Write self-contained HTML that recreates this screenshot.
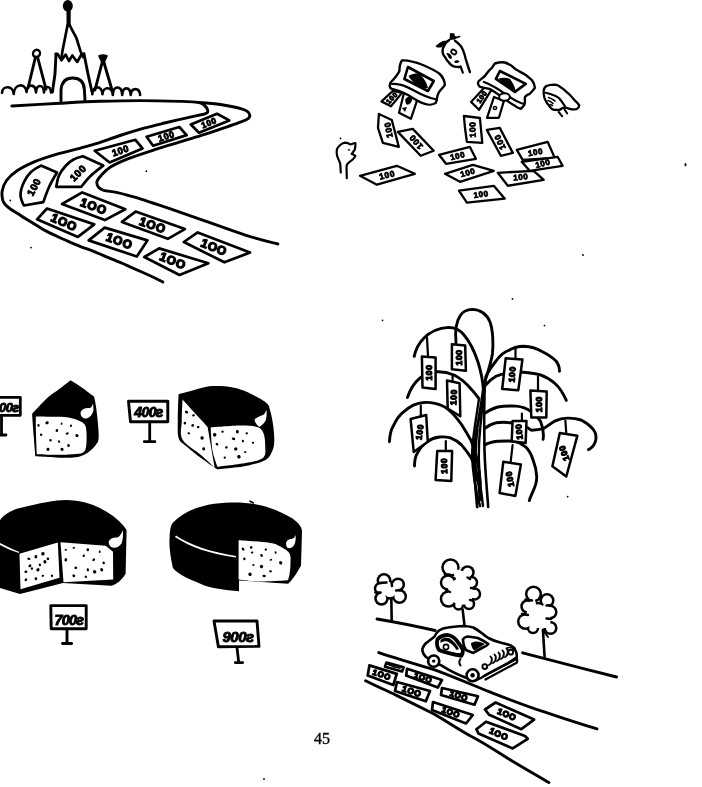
<!DOCTYPE html>
<html><head><meta charset="utf-8"><style>
html,body{margin:0;padding:0;background:#fff;}
svg{display:block;filter:grayscale(100%);}
text{font-family:"Liberation Sans",sans-serif;fill:#000;stroke:#000;stroke-width:0.9px;}
</style></head><body>
<svg width="702" height="787" viewBox="0 0 702 787">
<ellipse cx="67.8" cy="5.9" rx="5" ry="5.8" fill="#000"/>
<path d="M68.6,11 L68.6,25" fill="none" stroke="#000" stroke-width="4.2" stroke-linecap="round" stroke-linejoin="round" />
<path d="M67.6,25 L62.4,51.2 L61.5,58" fill="none" stroke="#000" stroke-width="2.7" stroke-linecap="round" stroke-linejoin="round" />
<path d="M69.6,25 C72,30 75,35 76.4,38 C78,43 79.5,48 80.5,51.2 L83,57" fill="none" stroke="#000" stroke-width="2.7" stroke-linecap="round" stroke-linejoin="round" />
<path d="M55.7,54 L57.4,53.7 L61.5,60.3 L65.7,54.5 L69,61.2 L72.3,55.4 L77.2,62 L81.4,54.5 L84,53.7" fill="none" stroke="#000" stroke-width="2.6" stroke-linecap="round" stroke-linejoin="round" />
<path d="M56,54 L55,74 L52.4,92" fill="none" stroke="#000" stroke-width="2.9" stroke-linecap="round" stroke-linejoin="round" />
<path d="M84,54 L88,74 L92,92" fill="none" stroke="#000" stroke-width="2.9" stroke-linecap="round" stroke-linejoin="round" />
<path d="M61,101 L61,90 Q62,78 72.6,78 Q84,78 84.4,90 L85,100.4" fill="none" stroke="#000" stroke-width="2.9" stroke-linecap="round" stroke-linejoin="round" />
<ellipse cx="36.5" cy="53.5" rx="3.4" ry="3.8" transform="rotate(25 36.5 53.5)" fill="none" stroke="#000" stroke-width="2.4"/>
<path d="M35.5,57 L28,88" fill="none" stroke="#000" stroke-width="2.9" stroke-linecap="round" stroke-linejoin="round" />
<path d="M37.5,57 L46,89" fill="none" stroke="#000" stroke-width="2.9" stroke-linecap="round" stroke-linejoin="round" />
<path d="M99,56 Q103,54 107,56 L104.5,61.5 Q103,62.5 101.5,61.5 Z" fill="#000" stroke="#000" stroke-width="1.5"/>
<path d="M102.5,61 L95,90" fill="none" stroke="#000" stroke-width="2.9" stroke-linecap="round" stroke-linejoin="round" />
<path d="M103.5,61 L112,90" fill="none" stroke="#000" stroke-width="2.9" stroke-linecap="round" stroke-linejoin="round" />
<path d="M2,92.8 C2.5,85.2 13.2,85.2 13.7,94.0 C14.2,82.9 26.0,82.9 26.5,92.0 C27.0,83.4 35.5,83.4 36.0,92.5 C36.5,83.8 43.5,83.8 44.0,92.5 C44.5,85.2 50.5,85.2 51.0,92.5" fill="none" stroke="#000" stroke-width="2.6" stroke-linecap="round" stroke-linejoin="round" />
<path d="M92.3,94.2 C92.8,85.1 102.0,85.1 102.5,94.2 C103.0,86.1 112.3,86.1 112.8,95.0 C113.3,84.9 121.7,84.9 122.2,95.0 C122.7,86.1 130.2,86.1 130.7,95.0 C131.2,87.1 139.6,87.1 140.1,95.0" fill="none" stroke="#000" stroke-width="2.6" stroke-linecap="round" stroke-linejoin="round" />
<path d="M11.8,106.0 C19.8,105.5 45.3,104.0 60.0,103.2 C74.7,102.4 86.7,101.7 100.0,101.3 C113.3,100.9 126.5,100.6 140.0,100.6 C153.5,100.6 171.3,101.1 181.0,101.4 C190.7,101.7 194.2,101.8 198.0,102.4 C201.8,103.0 202.4,103.7 204.0,105.0 C205.6,106.3 207.3,108.6 207.6,110.0 C207.8,111.4 208.6,112.4 205.5,113.6 C202.4,114.8 195.9,115.7 189.1,117.3 C182.3,118.9 172.1,121.2 164.6,123.0 C157.1,124.8 151.4,126.1 144.0,128.2 C136.6,130.3 127.8,133.0 120.0,135.5 C112.2,138.0 103.7,141.3 97.0,143.4 C90.3,145.5 86.5,146.5 79.8,148.3 C73.1,150.1 64.6,151.9 57.0,154.2 C49.4,156.5 40.9,159.1 34.2,161.9 C27.6,164.7 21.7,167.7 17.1,170.8 C12.5,173.9 9.0,177.1 6.5,180.5 C4.0,183.9 2.8,187.7 2.2,191.0 C1.6,194.3 2.2,198.0 2.8,200.3 C3.4,202.6 4.4,203.5 5.7,205.0 C7.0,206.5 8.7,207.8 10.7,209.2 C12.7,210.6 15.4,212.1 17.8,213.6 C20.2,215.1 22.5,216.8 24.9,218.3 C27.3,219.8 29.6,221.2 32.0,222.6 C34.4,224.0 36.8,225.6 39.2,227.0 C41.6,228.4 43.7,229.7 46.3,231.1 C48.9,232.5 52.0,234.0 55.0,235.4 C58.0,236.8 59.8,237.7 64.0,239.5 C68.2,241.3 75.0,244.3 80.0,246.3 C85.0,248.3 89.5,249.7 94.2,251.6 C99.0,253.5 103.8,255.7 108.5,257.7 C113.2,259.7 119.1,262.0 122.7,263.5 C126.3,265.0 125.5,264.8 130.0,266.8 C134.5,268.8 144.1,273.0 149.6,275.5 C155.1,278.0 160.6,280.9 162.8,282.0" fill="none" stroke="#000" stroke-width="2.9" stroke-linecap="round" stroke-linejoin="round" />
<path d="M198.0,102.4 C202.0,102.8 214.6,103.7 221.9,104.8 C229.2,105.9 237.2,107.6 241.6,108.9 C246.0,110.2 247.3,110.9 248.5,112.5 C249.7,114.1 250.3,116.6 248.6,118.3 C246.9,120.0 242.8,121.2 238.3,122.9 C233.9,124.6 227.4,126.7 221.9,128.6 C216.4,130.5 211.0,132.3 205.5,134.1 C200.0,135.9 194.5,137.5 189.1,139.2 C183.7,140.9 178.2,142.4 172.8,144.1 C167.4,145.8 163.8,146.7 156.4,149.1 C149.0,151.5 136.1,155.6 128.4,158.6 C120.8,161.6 115.0,164.2 110.5,167.0 C106.0,169.8 103.7,172.8 101.4,175.2 C99.2,177.6 97.5,179.4 97.0,181.4 C96.5,183.4 97.3,185.6 98.4,187.1 C99.5,188.6 100.4,189.4 103.7,190.3 C107.0,191.2 113.2,191.6 118.5,192.8 C123.8,194.0 129.9,195.7 135.6,197.4 C141.3,199.1 147.0,201.1 152.7,203.0 C158.4,204.9 161.2,205.8 169.8,208.7 C178.4,211.6 191.2,216.1 204.0,220.6 C216.8,225.1 234.5,231.7 246.8,235.6 C259.1,239.5 272.6,242.6 277.8,244.0" fill="none" stroke="#000" stroke-width="2.9" stroke-linecap="round" stroke-linejoin="round" />
<path d="M190.8,124.5 L217.0,113.8 L229.3,120.4 L199.0,132.7 Z" fill="#fff" stroke="#000" stroke-width="2.7" stroke-linecap="round" stroke-linejoin="round" />
<text x="209.0" y="122.8" transform="rotate(-22.0 209.0 122.8)" font-size="8.5" text-anchor="middle" dominant-baseline="central" font-weight="bold" letter-spacing="0.6">100</text>
<path d="M146.6,136.8 L179.3,127.0 L186.7,135.1 L153.1,145.8 Z" fill="#fff" stroke="#000" stroke-width="2.7" stroke-linecap="round" stroke-linejoin="round" />
<text x="166.4" y="136.2" transform="rotate(-18.0 166.4 136.2)" font-size="9.0" text-anchor="middle" dominant-baseline="central" font-weight="bold" letter-spacing="0.6">100</text>
<path d="M94.7,150.8 L135.4,139.8 L142.5,148.4 L109.6,162.5 Z" fill="#fff" stroke="#000" stroke-width="2.7" stroke-linecap="round" stroke-linejoin="round" />
<text x="120.5" y="150.4" transform="rotate(-18.0 120.5 150.4)" font-size="9.5" text-anchor="middle" dominant-baseline="central" font-weight="bold" letter-spacing="0.6">100</text>
<path d="M82.9,156.2 C82.9,156.2 103.3,165.6 103.3,165.6 C103.3,165.6 94.7,172.0 91.0,175.5 C87.3,179.0 81.3,186.8 81.3,186.8 C81.3,186.8 56.3,186.8 56.3,186.8 C56.3,186.8 57.5,179.0 59.0,175.5 C60.5,172.0 63.1,168.7 65.5,166.0 C67.9,163.3 70.6,161.1 73.5,159.5 C76.4,157.9 82.9,156.2 82.9,156.2 Z" fill="#fff" stroke="#000" stroke-width="2.7" stroke-linecap="round" stroke-linejoin="round" />
<text x="78.0" y="173.0" transform="rotate(-45.0 78.0 173.0)" font-size="10.0" text-anchor="middle" dominant-baseline="central" font-weight="bold" letter-spacing="0.6">100</text>
<path d="M41.0,165.6 C41.0,165.6 57.0,172.5 57.0,172.5 C57.0,172.5 51.8,181.1 49.5,186.0 C47.2,190.9 43.3,202.1 43.3,202.1 C43.3,202.1 23.9,205.5 23.9,205.5 C23.9,205.5 20.5,198.9 20.5,195.0 C20.5,191.1 22.2,185.8 24.0,182.0 C25.8,178.2 28.2,174.7 31.0,172.0 C33.8,169.3 41.0,165.6 41.0,165.6 Z" fill="#fff" stroke="#000" stroke-width="2.7" stroke-linecap="round" stroke-linejoin="round" />
<text x="34.0" y="187.0" transform="rotate(-62.0 34.0 187.0)" font-size="10.0" text-anchor="middle" dominant-baseline="central" font-weight="bold" letter-spacing="0.6">100</text>
<path d="M62.0,204.0 L82.3,192.4 L125.3,209.3 L104.8,220.1 Z" fill="#fff" stroke="#000" stroke-width="2.7" stroke-linecap="round" stroke-linejoin="round" />
<text x="93.6" y="206.4" transform="rotate(20.0 93.6 206.4)" font-size="12.0" text-anchor="middle" dominant-baseline="central" font-weight="bold" letter-spacing="0.6" style="stroke-width:1.3px">1OO</text>
<path d="M37.0,219.3 L47.0,208.5 L94.3,224.4 L77.9,236.9 Z" fill="#fff" stroke="#000" stroke-width="2.7" stroke-linecap="round" stroke-linejoin="round" />
<text x="64.1" y="222.3" transform="rotate(24.0 64.1 222.3)" font-size="12.0" text-anchor="middle" dominant-baseline="central" font-weight="bold" letter-spacing="0.6" style="stroke-width:1.3px">1OO</text>
<path d="M88.7,240.4 L104.7,227.6 L147.4,240.4 L136.8,256.5 Z" fill="#fff" stroke="#000" stroke-width="2.7" stroke-linecap="round" stroke-linejoin="round" />
<text x="119.4" y="241.2" transform="rotate(20.0 119.4 241.2)" font-size="12.0" text-anchor="middle" dominant-baseline="central" font-weight="bold" letter-spacing="0.6" style="stroke-width:1.3px">1OO</text>
<path d="M121.9,221.9 L135.6,211.6 L184.9,229.1 L167.8,238.8 Z" fill="#fff" stroke="#000" stroke-width="2.7" stroke-linecap="round" stroke-linejoin="round" />
<text x="152.6" y="225.3" transform="rotate(20.0 152.6 225.3)" font-size="12.0" text-anchor="middle" dominant-baseline="central" font-weight="bold" letter-spacing="0.6" style="stroke-width:1.3px">1OO</text>
<path d="M183.8,242.0 L197.7,232.4 L250.0,252.6 L224.4,262.3 Z" fill="#fff" stroke="#000" stroke-width="2.7" stroke-linecap="round" stroke-linejoin="round" />
<text x="214.0" y="247.3" transform="rotate(22.0 214.0 247.3)" font-size="12.0" text-anchor="middle" dominant-baseline="central" font-weight="bold" letter-spacing="0.6" style="stroke-width:1.3px">1OO</text>
<path d="M144.3,257.0 L159.2,248.4 L208.4,263.3 L179.5,275.0 Z" fill="#fff" stroke="#000" stroke-width="2.7" stroke-linecap="round" stroke-linejoin="round" />
<text x="172.8" y="260.9" transform="rotate(22.0 172.8 260.9)" font-size="12.0" text-anchor="middle" dominant-baseline="central" font-weight="bold" letter-spacing="0.6" style="stroke-width:1.3px">1OO</text>
<path d="M381.5,101.4 L393.0,90.9 L402.0,92.9 L391.0,106.3 Z" fill="#fff" stroke="#000" stroke-width="2.2" stroke-linecap="round" stroke-linejoin="round" />
<text x="391.9" y="97.9" transform="rotate(-45.0 391.9 97.9)" font-size="7.0" text-anchor="middle" dominant-baseline="central" font-weight="bold" letter-spacing="0.6">100</text>
<path d="M399,112.8 L405,88.9 L417.9,97.9 L410.9,118.8 Z" fill="#fff" stroke="#000" stroke-width="2.2" stroke-linecap="round" stroke-linejoin="round" />
<path d="M405,100 C407,96 411,96 412,99 C412,103 408,106 406,104 Z" fill="#000"/>
<path d="M402,108 L407,107 L405,112 Z" fill="#000"/>
<path d="M401.9,60.5 C407,60 415,62 422.9,65 C430,68 436,71 439.8,74 C443,77 445,82 444.8,85 C443,88 440,90 438.5,93 C437,96 437,100 435.8,102.9 C433,105 428,105 424.9,103.9 C419,102 414,99 408,95 C402,92 397,90 392,89 C389,88 389,84 391,82 C394,79 397,76 399.4,71 C399.5,66 400,63 401.9,60.5 Z" fill="#fff" stroke="#000" stroke-width="2.4" stroke-linecap="round" stroke-linejoin="round" />
<path d="M392,84 C398,83 406,86 413,90 C420,94 428,98 437,99.5" fill="none" stroke="#000" stroke-width="2.2" stroke-linecap="round" stroke-linejoin="round" />
<path d="M407.9,67 L433.8,81 L427.9,91 L404.4,79 Z" fill="#fff" stroke="#000" stroke-width="2.6" stroke-linecap="round" stroke-linejoin="round" />
<path d="M408.5,76 C412,74 416,73 419,73.5 C423,77 426,81 428,88 C424,89 420,87 417,85 C413,82 410,79 408.5,76 Z" fill="#000"/>
<path d="M471.0,101.9 L485.0,86.9 L492.0,88.9 L479.0,109.8 Z" fill="#fff" stroke="#000" stroke-width="2.2" stroke-linecap="round" stroke-linejoin="round" />
<text x="481.8" y="96.9" transform="rotate(-55.0 481.8 96.9)" font-size="7.0" text-anchor="middle" dominant-baseline="central" font-weight="bold" letter-spacing="0.6">100</text>
<path d="M487,117.8 L494,96.9 L503.9,100.9 L498.9,117.8 Z" fill="#fff" stroke="#000" stroke-width="2.2" stroke-linecap="round" stroke-linejoin="round" />
<circle cx="495" cy="108" r="1.6" fill="none" stroke="#000" stroke-width="1.5"/>
<path d="M494.9,63.5 C498,62.5 502,62 504.9,62.5 C508,63.5 510,65 511.9,66 C514,68 515,69 516.9,70 C520,72 523,73 525.8,75 C528,77 530,78 531.8,80 C534,83 535,86 534.8,87.9 C533,91 531,92 529.8,93.9 C527,95 525,96 524.8,97.9 C525,100 525,103 524.3,104.9 C523,107 522,108 520.8,108.8 C518,108 516,107 514.9,105.8 C508,102 500,95 490,89 C486,88 482,88 479.5,86.5 C477,84 478,81 480,80 C482,78 484,77 485,75.9 C487,73 489,70 491.9,68 C493,66 494,64.5 494.9,63.5 Z" fill="#fff" stroke="#000" stroke-width="2.4" stroke-linecap="round" stroke-linejoin="round" />
<path d="M484,82 C492,85 500,90 508,96 C514,100 519,103 524,104" fill="none" stroke="#000" stroke-width="2.2" stroke-linecap="round" stroke-linejoin="round" />
<path d="M499.9,71 L525.8,83.9 L514.9,91.9 L495.9,78.9 Z" fill="#fff" stroke="#000" stroke-width="2.6" stroke-linecap="round" stroke-linejoin="round" />
<path d="M498.5,78.5 C502,77.5 507,77.5 510,79 C513,83 515,87 515.5,90.5 C511,89 507,86 503,83 C501,81.5 499.5,80 498.5,78.5 Z" fill="#000"/>
<ellipse cx="504.5" cy="97" rx="5.3" ry="3.8" fill="#fff" stroke="#000" stroke-width="2"/>
<path d="M378.9,114.0 L391.8,120.0 L398.8,146.9 L382.9,142.9 L378.0,128.0 Z" fill="#fff" stroke="#000" stroke-width="2.3" stroke-linecap="round" stroke-linejoin="round" />
<text x="388.5" y="130.0" transform="rotate(-100.0 388.5 130.0)" font-size="8.5" text-anchor="middle" dominant-baseline="central" font-weight="bold" letter-spacing="0.6" style="stroke-width:0.8px">100</text>
<path d="M397.8,131.9 L412.8,128.9 L433.7,150.8 L420.7,155.8 Z" fill="#fff" stroke="#000" stroke-width="2.3" stroke-linecap="round" stroke-linejoin="round" />
<text x="416.0" y="142.0" transform="rotate(-130.0 416.0 142.0)" font-size="8.5" text-anchor="middle" dominant-baseline="central" font-weight="bold" letter-spacing="0.6" style="stroke-width:0.8px">100</text>
<path d="M360.0,175.8 L396.8,165.8 L414.8,173.8 L376.9,184.7 Z" fill="#fff" stroke="#000" stroke-width="2.3" stroke-linecap="round" stroke-linejoin="round" />
<text x="387.1" y="175.0" transform="rotate(-14.0 387.1 175.0)" font-size="8.5" text-anchor="middle" dominant-baseline="central" font-weight="bold" letter-spacing="0.6" style="stroke-width:0.8px">100</text>
<path d="M463.9,116.0 L479.9,118.0 L482.3,142.9 L466.9,141.9 L465.0,128.0 Z" fill="#fff" stroke="#000" stroke-width="2.3" stroke-linecap="round" stroke-linejoin="round" />
<text x="472.5" y="129.5" transform="rotate(-92.0 472.5 129.5)" font-size="8.5" text-anchor="middle" dominant-baseline="central" font-weight="bold" letter-spacing="0.6" style="stroke-width:0.8px">100</text>
<path d="M486.8,129.9 L499.8,127.9 L512.8,152.9 L500.8,155.8 Z" fill="#fff" stroke="#000" stroke-width="2.3" stroke-linecap="round" stroke-linejoin="round" />
<text x="500.0" y="142.0" transform="rotate(-115.0 500.0 142.0)" font-size="8.5" text-anchor="middle" dominant-baseline="central" font-weight="bold" letter-spacing="0.6" style="stroke-width:0.8px">100</text>
<path d="M439.0,154.8 L469.9,146.9 L475.9,158.8 L446.0,163.8 Z" fill="#fff" stroke="#000" stroke-width="2.3" stroke-linecap="round" stroke-linejoin="round" />
<text x="457.7" y="156.1" transform="rotate(-14.0 457.7 156.1)" font-size="8.0" text-anchor="middle" dominant-baseline="central" font-weight="bold" letter-spacing="0.6" style="stroke-width:0.8px">100</text>
<path d="M445.0,173.8 L472.9,164.8 L493.8,170.8 L460.0,181.8 Z" fill="#fff" stroke="#000" stroke-width="2.3" stroke-linecap="round" stroke-linejoin="round" />
<text x="467.9" y="172.8" transform="rotate(-16.0 467.9 172.8)" font-size="8.0" text-anchor="middle" dominant-baseline="central" font-weight="bold" letter-spacing="0.6" style="stroke-width:0.8px">100</text>
<path d="M458.9,190.7 L493.8,185.8 L504.8,198.7 L466.9,202.7 Z" fill="#fff" stroke="#000" stroke-width="2.3" stroke-linecap="round" stroke-linejoin="round" />
<text x="481.1" y="194.5" transform="rotate(-8.0 481.1 194.5)" font-size="8.0" text-anchor="middle" dominant-baseline="central" font-weight="bold" letter-spacing="0.6" style="stroke-width:0.8px">100</text>
<path d="M497.8,172.8 L533.7,170.8 L543.7,179.8 L507.8,185.8 Z" fill="#fff" stroke="#000" stroke-width="2.3" stroke-linecap="round" stroke-linejoin="round" />
<text x="520.8" y="177.3" transform="rotate(-5.0 520.8 177.3)" font-size="8.0" text-anchor="middle" dominant-baseline="central" font-weight="bold" letter-spacing="0.6" style="stroke-width:0.8px">100</text>
<path d="M516.8,149.9 L547.7,141.9 L554.7,157.8 L522.7,159.8 Z" fill="#fff" stroke="#000" stroke-width="2.3" stroke-linecap="round" stroke-linejoin="round" />
<text x="535.5" y="152.4" transform="rotate(-10.0 535.5 152.4)" font-size="8.0" text-anchor="middle" dominant-baseline="central" font-weight="bold" letter-spacing="0.6" style="stroke-width:0.8px">100</text>
<path d="M521.7,161.8 L557.6,156.8 L562.6,165.8 L529.7,170.8 Z" fill="#fff" stroke="#000" stroke-width="2.3" stroke-linecap="round" stroke-linejoin="round" />
<text x="542.9" y="163.8" transform="rotate(-14.0 542.9 163.8)" font-size="8.0" text-anchor="middle" dominant-baseline="central" font-weight="bold" letter-spacing="0.6" style="stroke-width:0.8px">100</text>
<path d="M449.2,40 C446,42 444,45 443,48 C442,52 443,55 445,57 C446,59 447,61 448.5,62 C450,64 452,66 453.5,66.3 C456,67 458,67 460,67" fill="none" stroke="#000" stroke-width="2.4" stroke-linecap="round" stroke-linejoin="round" />
<path d="M455,40.7 C457,42 459,44 460.6,45.7 C462,48 463,50 463.5,51.4 C464.5,54 465,56 465.6,58.5 C467,63 468.5,68 469.9,72" fill="none" stroke="#000" stroke-width="2.4" stroke-linecap="round" stroke-linejoin="round" />
<path d="M460.6,66.3 L462.8,72.7" fill="none" stroke="#000" stroke-width="2.2" stroke-linecap="round" stroke-linejoin="round" />
<path d="M450,33 L454.5,33.5 L454.8,36 L457,36.5 L455,39.5 L449.5,40 Z" fill="#000"/>
<path d="M455.5,38 L459.5,36.5" fill="none" stroke="#000" stroke-width="1.6" stroke-linecap="round" stroke-linejoin="round" />
<path d="M435.5,46 L440,42.5 L443,41 L447.5,40.5 L446,44 L443.5,45 L441,47.5 L437,47.5 Z" fill="#000"/>
<ellipse cx="453.8" cy="52" rx="2.8" ry="2" transform="rotate(35 453.8 52)" fill="none" stroke="#000" stroke-width="1.8"/>
<path d="M446.5,53 C448.5,52.5 451,54 452,57 C452,59 450,60 449,58 C448,56 447,55 446.5,53 Z" fill="#000"/>
<path d="M454.5,61 C456,60 458.5,60 459.5,61.5 C458.5,63 456,63.5 454.5,62.5 Z" fill="#000"/>
<path d="M543.7,90.7 C544,88 545,86.5 547.3,85.7 C549,85 551,84.7 553.7,84.6 C556,84.7 557,85 558.7,85.7 C560,87 562,88 563.6,89.3 C566,91.5 568,93 570,95 C572,97 573.5,99 575,100.7 C577,102.5 578.5,104 579.3,105.6 C579,107.5 578,108.5 576.5,109.2 C574,109.5 572,109.5 570.8,109.2 C569,108.8 567.5,108.2 566.5,107.8 C565,107.5 564,107.5 563,107.8 C561.5,108.5 560.5,109.5 559.4,110 C556,110 554,110 552.2,109.2 C550,107 548.5,105.5 547.3,103.5 C546,101.5 545,99.5 544.4,97.8 C543.8,95.5 543.5,93 543.7,90.7 Z" fill="none" stroke="#000" stroke-width="2.3" stroke-linecap="round" stroke-linejoin="round" />
<path d="M545.8,92.8 C549,93.5 552,94.5 555,95.7 C557,96.5 558.5,97.5 559.4,98.5 C561.5,101 563.5,104 565,106.4" fill="none" stroke="#000" stroke-width="2.2" stroke-linecap="round" stroke-linejoin="round" />
<path d="M548.5,97.5 C551,98 553,99.5 555,101 M548,100.5 C550,101 551.5,102 553,103.5 M550,104.5 L552.5,105.5" fill="none" stroke="#000" stroke-width="1.6" stroke-linecap="round" stroke-linejoin="round" />
<path d="M558.7,112 L562.2,116.3 M564.4,109.2 L567.2,113.5" fill="none" stroke="#000" stroke-width="2" stroke-linecap="round" stroke-linejoin="round" />
<path d="M340.8,172.5 C340.5,169 340.5,166 340.2,163.6 C339,160 337.5,157.5 337,155.3 C336.5,153 336.5,151 337,149 C338,147 339.5,145.5 340.8,144.5 C342,143.5 343.5,142.8 345.2,142.6 C347,142.6 349,143.5 350.3,144.5 C352,144 353.5,143.2 355.4,143 C355.5,145.5 355.3,147.5 354.8,149.6 C353.5,151.5 352.5,153 351.6,154 C353,154.5 354.5,155 355.4,156 C354.5,157.5 353.5,158.8 352.2,159.8 C350.5,161 349,162.3 347.8,163.6 C347,164.5 346.7,165.5 346.5,166.8 C346.6,170 346.7,174 346.8,178.2" fill="none" stroke="#000" stroke-width="2.2" stroke-linecap="round" stroke-linejoin="round" />
<path d="M347.5,150.5 L349,148.5 L350.5,150.5 Z" fill="#000"/>
<path d="M70.5,380.2 C70.5,380.2 77.6,384.5 81.5,387.2 C85.4,389.9 94.0,396.6 94.0,396.6 C94.0,396.6 95.6,402.7 96.4,409.2 C97.2,415.7 98.8,429.8 98.7,435.8 C98.6,441.8 97.9,442.1 95.6,445.2 C93.2,448.3 88.8,452.5 84.6,454.6 C80.4,456.7 78.7,457.5 70.5,457.8 C62.3,458.1 35.3,456.2 35.3,456.2 C35.3,456.2 34.2,442.9 33.7,435.8 C33.2,428.8 32.1,413.9 32.1,413.9 C32.1,413.9 42.4,402.4 47.0,398.2 C51.6,394.0 55.7,391.8 59.6,388.8 C63.5,385.8 70.5,380.2 70.5,380.2 Z" fill="#000"/>
<path d="M35.8,416.4 C35.8,416.4 49.8,416.6 55.0,416.8 C60.2,417.0 63.0,416.7 66.8,417.3 C70.6,417.9 74.9,419.1 77.9,420.3 C80.9,421.5 83.3,422.6 84.7,424.5 C86.1,426.4 86.1,428.1 86.4,431.4 C86.7,434.7 86.7,440.9 86.4,444.2 C86.1,447.5 85.6,449.5 84.7,451.0 C83.8,452.5 81.3,453.4 81.3,453.4 C81.3,453.4 67.3,454.7 59.9,454.8 C52.5,454.9 36.8,454.2 36.8,454.2 C36.8,454.2 36.2,441.3 36.0,435.0 C35.8,428.7 35.8,416.4 35.8,416.4 Z" fill="#fff"/>
<path d="M80.7,412 C82,409 86,407.5 89,408 C91,408.5 92.5,406 93,403 L93.5,410 C92.5,415 89,418.5 85,418.6 C82,418 80,415 80.7,412 Z" fill="#fff"/>
<ellipse cx="38.5" cy="425.4" rx="1.32" ry="1.14" transform="rotate(94 38.5 425.4)" fill="#000"/>
<ellipse cx="47.1" cy="422.8" rx="1.76" ry="1.48" transform="rotate(148 47.1 422.8)" fill="#000"/>
<ellipse cx="61.6" cy="423.7" rx="1.20" ry="0.85" transform="rotate(120 61.6 423.7)" fill="#000"/>
<ellipse cx="71" cy="425.8" rx="1.33" ry="1.02" transform="rotate(120 71 425.8)" fill="#000"/>
<ellipse cx="56.9" cy="430.5" rx="1.51" ry="1.31" transform="rotate(101 56.9 430.5)" fill="#000"/>
<ellipse cx="67.2" cy="433.5" rx="1.58" ry="1.18" transform="rotate(162 67.2 433.5)" fill="#000"/>
<ellipse cx="41.1" cy="434.8" rx="1.26" ry="1.23" transform="rotate(99 41.1 434.8)" fill="#000"/>
<ellipse cx="77" cy="435.6" rx="1.64" ry="1.48" transform="rotate(16 77 435.6)" fill="#000"/>
<ellipse cx="50.5" cy="440.3" rx="1.26" ry="1.25" transform="rotate(10 50.5 440.3)" fill="#000"/>
<ellipse cx="59.1" cy="441.6" rx="1.36" ry="0.96" transform="rotate(68 59.1 441.6)" fill="#000"/>
<ellipse cx="68.5" cy="445.5" rx="1.47" ry="1.34" transform="rotate(99 68.5 445.5)" fill="#000"/>
<ellipse cx="48" cy="449.3" rx="1.63" ry="1.59" transform="rotate(101 48 449.3)" fill="#000"/>
<ellipse cx="62" cy="449.3" rx="1.64" ry="1.43" transform="rotate(34 62 449.3)" fill="#000"/>
<path d="M-3,397.3 L20.3,397.3 L20.3,415.3 L-3,415.3" fill="none" stroke="#000" stroke-width="2.8" stroke-linecap="round" stroke-linejoin="round" />
<text x="18.8" y="411.5" font-size="13" font-weight="bold" font-style="italic" text-anchor="end" letter-spacing="-0.5">300г</text>
<path d="M1.5,415.5 L1.5,435 M-1,435 L6,435" fill="none" stroke="#000" stroke-width="2.8" stroke-linecap="round" stroke-linejoin="round" />
<path d="M178.6,394.1 C178.6,394.1 188.4,391.5 193.5,390.2 C198.6,388.9 204.0,386.9 209.2,386.3 C214.4,385.7 219.6,385.8 224.8,386.3 C230.0,386.8 235.5,387.8 240.5,389.4 C245.5,391.0 250.2,393.3 254.6,395.7 C259.0,398.1 264.5,400.9 267.1,403.5 C269.7,406.1 269.2,407.4 270.3,411.3 C271.4,415.2 272.8,421.8 273.4,427.0 C274.0,432.2 274.5,438.5 274.2,442.7 C273.9,446.9 273.2,449.2 271.8,452.1 C270.4,455.0 269.5,457.7 265.6,459.9 C261.7,462.1 253.8,464.1 248.3,465.4 C242.8,466.7 237.9,467.0 232.7,467.7 C227.5,468.4 217.0,469.3 217.0,469.3 C217.0,469.3 206.5,462.2 201.3,458.3 C196.1,454.4 189.5,449.2 185.7,445.8 C181.9,442.4 179.9,442.4 178.6,438.0 C177.3,433.6 177.8,426.5 177.8,419.2 C177.8,411.9 178.6,394.1 178.6,394.1 Z" fill="#000"/>
<path d="M182.5,399.6 C182.5,399.6 207.6,427.0 207.6,427.0 C207.6,427.0 214.7,467.7 214.7,467.7 C214.7,467.7 206.7,459.9 201.3,455.2 C195.9,450.5 185.8,445.4 182.5,439.5 C179.2,433.6 181.8,426.6 181.8,420.0 C181.8,413.4 182.5,399.6 182.5,399.6 Z" fill="#fff"/>
<path d="M210.7,427.5 C210.7,427.5 232.7,425.7 240.5,425.6 C248.3,425.6 253.9,425.9 257.7,427.2 C261.5,428.5 262.2,430.2 263.5,433.3 C264.8,436.4 265.2,441.8 265.2,445.8 C265.2,449.8 266.3,454.7 263.5,457.5 C260.7,460.3 256.0,460.9 248.3,462.5 C240.6,464.1 217.5,466.8 217.5,466.8 C217.5,466.8 213.6,457.1 212.5,450.5 C211.4,443.9 210.7,427.5 210.7,427.5 Z" fill="#fff"/>
<path d="M254.6,419.2 C258,416.5 262,415.5 264,414.5 C265.5,412.5 266,410.5 266.4,409.8 C267,414 266.5,418 265.6,420.7 C263.5,424 261,426 259.3,427 C256.5,424.5 254.5,422 254.6,419.2 Z" fill="#fff"/>
<ellipse cx="186.5" cy="412.1" rx="1.73" ry="1.26" transform="rotate(34 186.5 412.1)" fill="#000"/>
<ellipse cx="193.5" cy="415.3" rx="1.48" ry="1.15" transform="rotate(172 193.5 415.3)" fill="#000"/>
<ellipse cx="184.9" cy="423.1" rx="1.44" ry="1.28" transform="rotate(77 184.9 423.1)" fill="#000"/>
<ellipse cx="192.7" cy="425.4" rx="1.43" ry="1.36" transform="rotate(146 192.7 425.4)" fill="#000"/>
<ellipse cx="198.2" cy="427" rx="1.39" ry="1.22" transform="rotate(149 198.2 427)" fill="#000"/>
<ellipse cx="188.8" cy="433.3" rx="1.31" ry="1.05" transform="rotate(7 188.8 433.3)" fill="#000"/>
<ellipse cx="202.1" cy="438" rx="1.72" ry="1.71" transform="rotate(171 202.1 438)" fill="#000"/>
<ellipse cx="203.7" cy="448.9" rx="1.61" ry="1.47" transform="rotate(83 203.7 448.9)" fill="#000"/>
<ellipse cx="214.7" cy="434.8" rx="1.79" ry="1.74" transform="rotate(145 214.7 434.8)" fill="#000"/>
<ellipse cx="222.5" cy="431.7" rx="1.23" ry="1.10" transform="rotate(162 222.5 431.7)" fill="#000"/>
<ellipse cx="237.4" cy="431.7" rx="1.70" ry="1.48" transform="rotate(72 237.4 431.7)" fill="#000"/>
<ellipse cx="246.8" cy="433.3" rx="1.24" ry="1.05" transform="rotate(163 246.8 433.3)" fill="#000"/>
<ellipse cx="233.5" cy="438.8" rx="1.81" ry="1.31" transform="rotate(17 233.5 438.8)" fill="#000"/>
<ellipse cx="242.9" cy="441.1" rx="1.43" ry="1.06" transform="rotate(75 242.9 441.1)" fill="#000"/>
<ellipse cx="217" cy="444.2" rx="1.44" ry="1.19" transform="rotate(30 217 444.2)" fill="#000"/>
<ellipse cx="253" cy="442.7" rx="1.19" ry="1.05" transform="rotate(11 253 442.7)" fill="#000"/>
<ellipse cx="226.4" cy="447.4" rx="1.41" ry="1.23" transform="rotate(141 226.4 447.4)" fill="#000"/>
<ellipse cx="235.8" cy="449" rx="1.73" ry="1.72" transform="rotate(129 235.8 449)" fill="#000"/>
<ellipse cx="245.2" cy="452.1" rx="1.31" ry="0.93" transform="rotate(1 245.2 452.1)" fill="#000"/>
<ellipse cx="224.8" cy="457.6" rx="1.21" ry="1.06" transform="rotate(8 224.8 457.6)" fill="#000"/>
<ellipse cx="238.9" cy="456.8" rx="1.78" ry="1.76" transform="rotate(74 238.9 456.8)" fill="#000"/>
<path d="M128.5,401.3 L167.8,401.3 L167.8,421.8 L130.5,421.8 Z" fill="none" stroke="#000" stroke-width="2.9" stroke-linecap="round" stroke-linejoin="round" />
<text x="148.5" y="417.3" font-size="14" font-weight="bold" font-style="italic" text-anchor="middle" letter-spacing="-0.6">400г</text>
<path d="M149.7,421.8 L149.7,441 M144.3,441.7 L154.9,441.7" fill="none" stroke="#000" stroke-width="2.8" stroke-linecap="round" stroke-linejoin="round" />
<path d="M0,520 C5,513 15,509 20,508 C40,503 55,500 65.8,500 C80,500 92,504 99.7,508 C110,513 118,519 123.7,525.9 L126.6,530 L125.6,573.8 C122,580 117,584 111.7,585.7 L63,583 L20,594 L0,588 Z" fill="#000"/>
<path d="M19.5,553.8 L57.8,542.5 L59.5,577.8 L20.5,589.2 Z" fill="#fff"/>
<path d="M60.5,542.2 L105.7,545.8 L113,551.8 L113.2,579.5 L63.5,582.2 Z" fill="#fff"/>
<path d="M0,543 C6,546 12,549 19,551.8 L19,553 C12,551 6,548 0,545 Z" fill="#fff"/>
<path d="M108.7,541.5 C110,538 114,537 117,537.5 C119.5,537 121.5,534 122.8,530 C123.3,535 123,540 121.5,543.5 C119.5,546.5 116.5,548 113.5,547.8 C110.5,547.3 108.5,544.5 108.7,541.5 Z" fill="#fff"/>
<ellipse cx="28.9" cy="558.8" rx="1.56" ry="1.16" transform="rotate(10 28.9 558.8)" fill="#000"/>
<ellipse cx="35.9" cy="556.8" rx="1.80" ry="1.44" transform="rotate(92 35.9 556.8)" fill="#000"/>
<ellipse cx="42.9" cy="553.8" rx="1.79" ry="1.73" transform="rotate(96 42.9 553.8)" fill="#000"/>
<ellipse cx="47.9" cy="558.8" rx="1.41" ry="1.35" transform="rotate(98 47.9 558.8)" fill="#000"/>
<ellipse cx="29.9" cy="565.8" rx="1.58" ry="1.39" transform="rotate(143 29.9 565.8)" fill="#000"/>
<ellipse cx="31.9" cy="568.5" rx="1.23" ry="1.22" transform="rotate(129 31.9 568.5)" fill="#000"/>
<ellipse cx="39.9" cy="564.8" rx="1.34" ry="1.19" transform="rotate(60 39.9 564.8)" fill="#000"/>
<ellipse cx="44.9" cy="561.8" rx="1.77" ry="1.47" transform="rotate(66 44.9 561.8)" fill="#000"/>
<ellipse cx="25.9" cy="571.8" rx="1.50" ry="1.30" transform="rotate(2 25.9 571.8)" fill="#000"/>
<ellipse cx="37.9" cy="569.8" rx="1.67" ry="1.67" transform="rotate(80 37.9 569.8)" fill="#000"/>
<ellipse cx="42.9" cy="575.8" rx="1.17" ry="1.04" transform="rotate(161 42.9 575.8)" fill="#000"/>
<ellipse cx="51.9" cy="575.8" rx="1.25" ry="1.11" transform="rotate(85 51.9 575.8)" fill="#000"/>
<ellipse cx="35.9" cy="578.8" rx="1.46" ry="1.32" transform="rotate(90 35.9 578.8)" fill="#000"/>
<ellipse cx="25.9" cy="579.8" rx="1.56" ry="1.22" transform="rotate(125 25.9 579.8)" fill="#000"/>
<ellipse cx="65.8" cy="549.8" rx="1.17" ry="0.84" transform="rotate(173 65.8 549.8)" fill="#000"/>
<ellipse cx="73.8" cy="547.8" rx="1.17" ry="0.95" transform="rotate(160 73.8 547.8)" fill="#000"/>
<ellipse cx="87.8" cy="549.8" rx="1.46" ry="1.28" transform="rotate(81 87.8 549.8)" fill="#000"/>
<ellipse cx="99.7" cy="551.8" rx="1.28" ry="0.96" transform="rotate(94 99.7 551.8)" fill="#000"/>
<ellipse cx="65.8" cy="559.8" rx="1.71" ry="1.33" transform="rotate(96 65.8 559.8)" fill="#000"/>
<ellipse cx="83.8" cy="555.8" rx="1.23" ry="1.16" transform="rotate(145 83.8 555.8)" fill="#000"/>
<ellipse cx="93.7" cy="559.8" rx="1.61" ry="1.19" transform="rotate(128 93.7 559.8)" fill="#000"/>
<ellipse cx="103.7" cy="562.8" rx="1.31" ry="1.23" transform="rotate(61 103.7 562.8)" fill="#000"/>
<ellipse cx="75.8" cy="567.8" rx="1.37" ry="1.24" transform="rotate(166 75.8 567.8)" fill="#000"/>
<ellipse cx="87.8" cy="569.8" rx="1.62" ry="1.18" transform="rotate(82 87.8 569.8)" fill="#000"/>
<ellipse cx="94.7" cy="571.8" rx="1.78" ry="1.61" transform="rotate(57 94.7 571.8)" fill="#000"/>
<ellipse cx="73.8" cy="575.8" rx="1.45" ry="1.38" transform="rotate(43 73.8 575.8)" fill="#000"/>
<ellipse cx="85.8" cy="576.8" rx="1.21" ry="1.12" transform="rotate(55 85.8 576.8)" fill="#000"/>
<ellipse cx="101.7" cy="569.8" rx="1.74" ry="1.45" transform="rotate(57 101.7 569.8)" fill="#000"/>
<path d="M230.5,502.5 C250,502 270,505 292.5,518.5 C300,524 302,528 302,531.3 L301,565.5 C296,575 292,580 288.2,583.7 L239,580.5 L239,591.2 C225,590 210,588 202.7,584.7 C185,578 175,572 172.8,567.6 C170,555 169,545 169.6,537.7 C170,528 171,525 172.8,522.8 C185,510 205,503 230.5,502.5 Z" fill="#000"/>
<path d="M176,535.6 C190,545 210,552 235.9,555.9 L236,557.5 C210,554 190,547 175,537 Z" fill="#fff"/>
<path d="M238.6,540.2 C238.6,540.2 262.1,541.6 269.2,542.7 C276.3,543.8 277.8,545.1 281.2,547.0 C284.6,548.9 288.2,550.8 289.7,553.8 C291.2,556.8 290.4,561.6 290.4,565.0 C290.4,568.4 289.9,571.8 289.5,574.3 C289.1,576.8 288.0,580.3 288.0,580.3 C288.0,580.3 268.8,581.6 260.6,581.5 C252.4,581.4 238.6,579.4 238.6,579.4 C238.6,579.4 238.6,540.2 238.6,540.2 Z" fill="#fff"/>
<path d="M286.3,542 C287.5,539.5 290,539 292.5,538.8 C294,538 295,536.5 295.5,535 C296,539.5 295.5,543.5 293.5,546 C291.5,548 289,548.8 287.5,547.8 C286.2,546.5 285.8,544 286.3,542 Z" fill="#fff"/>
<ellipse cx="243.1" cy="549.1" rx="1.67" ry="1.19" transform="rotate(48 243.1 549.1)" fill="#000"/>
<ellipse cx="251.2" cy="547.4" rx="1.37" ry="1.30" transform="rotate(147 251.2 547.4)" fill="#000"/>
<ellipse cx="252.1" cy="552.5" rx="1.28" ry="1.00" transform="rotate(164 252.1 552.5)" fill="#000"/>
<ellipse cx="265.8" cy="549.5" rx="1.22" ry="1.08" transform="rotate(150 265.8 549.5)" fill="#000"/>
<ellipse cx="275.6" cy="552.5" rx="1.24" ry="0.98" transform="rotate(69 275.6 552.5)" fill="#000"/>
<ellipse cx="261.5" cy="555.5" rx="1.46" ry="1.30" transform="rotate(74 261.5 555.5)" fill="#000"/>
<ellipse cx="244.4" cy="558.9" rx="1.43" ry="1.18" transform="rotate(105 244.4 558.9)" fill="#000"/>
<ellipse cx="270.9" cy="559.8" rx="1.26" ry="0.89" transform="rotate(159 270.9 559.8)" fill="#000"/>
<ellipse cx="280.7" cy="562.8" rx="1.80" ry="1.50" transform="rotate(56 280.7 562.8)" fill="#000"/>
<ellipse cx="253.4" cy="564.9" rx="1.18" ry="0.99" transform="rotate(169 253.4 564.9)" fill="#000"/>
<ellipse cx="261.5" cy="566.6" rx="1.65" ry="1.63" transform="rotate(139 261.5 566.6)" fill="#000"/>
<ellipse cx="270.5" cy="571.3" rx="1.38" ry="1.06" transform="rotate(17 270.5 571.3)" fill="#000"/>
<ellipse cx="250" cy="574.3" rx="1.72" ry="1.70" transform="rotate(30 250 574.3)" fill="#000"/>
<ellipse cx="264.1" cy="576" rx="1.69" ry="1.20" transform="rotate(177 264.1 576)" fill="#000"/>
<path d="M50.8,605.6 L86.2,605.6 L86.2,628.8 L51.2,628.8 Z" fill="none" stroke="#000" stroke-width="2.9" stroke-linecap="round" stroke-linejoin="round" />
<text x="68.8" y="624.8" font-size="14.5" font-weight="bold" font-style="italic" text-anchor="middle" letter-spacing="-0.8">700г</text>
<path d="M67,629 L67,643.5 M62.5,643.5 L71.6,643.5" fill="none" stroke="#000" stroke-width="2.9" stroke-linecap="round" stroke-linejoin="round" />
<path d="M214,621 L257,621 L259,646.3 L218.4,646.8 Z" fill="none" stroke="#000" stroke-width="2.9" stroke-linecap="round" stroke-linejoin="round" />
<text x="238" y="642" font-size="15" font-weight="bold" font-style="italic" text-anchor="middle" letter-spacing="-0.5">900г</text>
<path d="M237,647.6 L238.7,662.4 M235.3,662.6 L242.7,662.6" fill="none" stroke="#000" stroke-width="2.8" stroke-linecap="round" stroke-linejoin="round" />
<path d="M483.3,389 C481,410 476,430 474,450 C473,470 476,490 477.2,507" fill="none" stroke="#000" stroke-width="2.8" stroke-linecap="round" stroke-linejoin="round" />
<path d="M484.7,382 C484,405 484,430 484.5,450 C485,470 487,490 488.2,507" fill="none" stroke="#000" stroke-width="2.6" stroke-linecap="round" stroke-linejoin="round" />
<path d="M479,398.7 C476,420 472,440 472.1,455 C472.5,475 477,495 480,506" fill="none" stroke="#000" stroke-width="2.4" stroke-linecap="round" stroke-linejoin="round" />
<path d="M486,376.3 C483,400 480,425 479,445 C478,465 480,485 483,506" fill="none" stroke="#000" stroke-width="2.4" stroke-linecap="round" stroke-linejoin="round" />
<path d="M477,430 C475,445 474.5,460 475.5,480" fill="none" stroke="#000" stroke-width="3.2" stroke-linecap="round" stroke-linejoin="round" />
<path d="M456,342.7 C455,332 456,322 460,316 C463,311 467,309.5 472.3,309.4 C480,309.5 487,314 490,322 C493,330 493.5,345 492.4,354 C491,363 488,372 484.7,382" fill="none" stroke="#000" stroke-width="2.9" stroke-linecap="round" stroke-linejoin="round" />
<path d="M414.2,356.4 C416,348 419,343 424,338 C430,332 438,328 448.4,327.4 C455,327.5 460,330 464,335 C470,342 474,350 478,362 C481,372 483,382 483.3,389" fill="none" stroke="#000" stroke-width="2.9" stroke-linecap="round" stroke-linejoin="round" />
<path d="M407.4,397.4 C410,390 414,383 419.3,378.6 C424,374 430,372 436.4,371.8 C442,371.5 448,372.5 454,375 C460,378 466,383 471,389 C474,392 477,396 479,398.7" fill="none" stroke="#000" stroke-width="2.9" stroke-linecap="round" stroke-linejoin="round" />
<path d="M389.4,441.7 C390,434 391,430 392.5,427.6 C396,420 399,415 403.5,412 C410,406 416,403 423.9,402.5 C428,402 431,402.5 434.9,403.3 C440,404.5 444,406 447.4,408.8 C453,413 457,418 461.5,424.5 C465,430 468,435 470.9,440.2 C474,448 476,454 477.2,460.5 C479,468 480,476 480.3,484" fill="none" stroke="#000" stroke-width="2.9" stroke-linecap="round" stroke-linejoin="round" />
<path d="M414.5,466 C414.5,461 415.5,456 417.6,452.7 C420,448 423,444.5 427,441.7 C431,439 435,437.5 439.6,437 C443,436.8 447,437 450.5,437.8 C455,439.5 458,441.5 461.5,444.9 C465,449 468,453 470.9,457.4 C474,463 476,468 477.2,474.6 C478.5,482 479.5,490 480.3,499.7" fill="none" stroke="#000" stroke-width="2.9" stroke-linecap="round" stroke-linejoin="round" />
<path d="M486,376.3 C489,370 492,366 496,361 C500,355 505,351.5 509.9,349.8 C514,347.5 519,346.5 523.8,346.3 C530,346.5 537,348.5 542,351.5 C548,354.5 553,358 556,361 C558.5,364 559.5,368 559.5,371.3" fill="none" stroke="#000" stroke-width="2.9" stroke-linecap="round" stroke-linejoin="round" />
<path d="M484.7,386 C488,382 492,378.5 496,376.3 C500,374.5 503,373.8 507,373.5 C511,372.8 515,372.2 518.3,372 C525,372 532,373 539.8,374.7 C546,377 551,380 555,383.5 C560,388 563.5,394 566.3,400.3" fill="none" stroke="#000" stroke-width="2.9" stroke-linecap="round" stroke-linejoin="round" />
<path d="M484.8,413.5 C488,410.5 493,408.5 497.8,407 C503,406 509,405.8 516.3,406.1 C521,406.5 527,408.5 531.1,411.7 C535,414.5 538,417.5 540.4,421 C543,427 544,433 543.1,439.4" fill="none" stroke="#000" stroke-width="2.9" stroke-linecap="round" stroke-linejoin="round" />
<path d="M484.8,428.3 C488,425.5 492,423.8 496,422.8 C501,422 506,422 510.7,422.8 C516,423.5 521,425 525.6,426.5 C528,427.5 529.5,429 531.1,430.2 C536,430 540,429.5 544,428.3 C548,426 551,423 555.2,420.9 C559,419 563,418 568.1,418.1 C573,418 577,418.7 581.1,420 C585,422 589,424.5 592.2,428.3 C595,431 596,434 596,437.6 C596,441 594.5,444.5 592.2,446.9 C591,448 590,449 588.5,449.6" fill="none" stroke="#000" stroke-width="2.9" stroke-linecap="round" stroke-linejoin="round" />
<path d="M484.8,445 C488,443 493,441.8 497.8,441.3 C503,441 509,440.8 514.4,441.3 C518,442 522,444 525.6,446.9 C529,450 531.5,455 533,459.8 C535,465 536.5,471 536.7,476.5 C537,482 535,487 533,491.3 C531.5,495 530,498 529.3,500.6" fill="none" stroke="#000" stroke-width="2.9" stroke-linecap="round" stroke-linejoin="round" />
<path d="M456,342.7 L456,345" fill="none" stroke="#000" stroke-width="2.2" stroke-linecap="round" stroke-linejoin="round" />
<path d="M451.9,344.2 L465.2,345.6 L465.9,370.7 L451.9,369.3 Z" fill="#fff" stroke="#000" stroke-width="2.5" stroke-linecap="round" stroke-linejoin="round" />
<text x="458.7" y="357.4" transform="rotate(-90.0 458.7 357.4)" font-size="8.5" text-anchor="middle" dominant-baseline="central" font-weight="bold" letter-spacing="0.6" style="stroke-width:1.1px">100</text>
<path d="M427,337.6 L428,356.4" fill="none" stroke="#000" stroke-width="2.2" stroke-linecap="round" stroke-linejoin="round" />
<path d="M421.9,356.4 L435.6,357.4 L435.6,388.9 L422.5,387.5 Z" fill="#fff" stroke="#000" stroke-width="2.5" stroke-linecap="round" stroke-linejoin="round" />
<text x="428.9" y="372.5" transform="rotate(-90.0 428.9 372.5)" font-size="8.5" text-anchor="middle" dominant-baseline="central" font-weight="bold" letter-spacing="0.6" style="stroke-width:1.1px">100</text>
<path d="M452.6,375 L452.6,380.5" fill="none" stroke="#000" stroke-width="2.2" stroke-linecap="round" stroke-linejoin="round" />
<path d="M447.0,380.5 L459.6,383.3 L460.3,416.2 L447.7,408.5 Z" fill="#fff" stroke="#000" stroke-width="2.5" stroke-linecap="round" stroke-linejoin="round" />
<text x="453.6" y="397.1" transform="rotate(-88.0 453.6 397.1)" font-size="8.5" text-anchor="middle" dominant-baseline="central" font-weight="bold" letter-spacing="0.6" style="stroke-width:1.1px">100</text>
<path d="M420.8,405.7 L420.8,416.6" fill="none" stroke="#000" stroke-width="2.2" stroke-linecap="round" stroke-linejoin="round" />
<path d="M410.6,419.0 L426.2,415.0 L427.8,441.7 L413.7,451.9 Z" fill="#fff" stroke="#000" stroke-width="2.5" stroke-linecap="round" stroke-linejoin="round" />
<text x="419.6" y="431.9" transform="rotate(-82.0 419.6 431.9)" font-size="8.5" text-anchor="middle" dominant-baseline="central" font-weight="bold" letter-spacing="0.6" style="stroke-width:1.1px">100</text>
<path d="M445.8,441 L445.8,451.1" fill="none" stroke="#000" stroke-width="2.2" stroke-linecap="round" stroke-linejoin="round" />
<path d="M437.2,451.1 L452.1,451.1 L451.3,480.9 L435.6,480.1 Z" fill="#fff" stroke="#000" stroke-width="2.5" stroke-linecap="round" stroke-linejoin="round" />
<text x="444.1" y="465.8" transform="rotate(-92.0 444.1 465.8)" font-size="8.5" text-anchor="middle" dominant-baseline="central" font-weight="bold" letter-spacing="0.6" style="stroke-width:1.1px">100</text>
<path d="M515.5,347.5 L515.5,358.2" fill="none" stroke="#000" stroke-width="2.2" stroke-linecap="round" stroke-linejoin="round" />
<path d="M505.7,358.2 L522.4,359.6 L518.3,390.3 L502.2,388.9 Z" fill="#fff" stroke="#000" stroke-width="2.5" stroke-linecap="round" stroke-linejoin="round" />
<text x="512.1" y="374.2" transform="rotate(-85.0 512.1 374.2)" font-size="8.5" text-anchor="middle" dominant-baseline="central" font-weight="bold" letter-spacing="0.6" style="stroke-width:1.1px">100</text>
<path d="M538,376.4 L538,390.5" fill="none" stroke="#000" stroke-width="2.2" stroke-linecap="round" stroke-linejoin="round" />
<path d="M530.4,390.5 L546.7,391.5 L546.3,417.4 L531.3,417.4 Z" fill="#fff" stroke="#000" stroke-width="2.5" stroke-linecap="round" stroke-linejoin="round" />
<text x="538.7" y="404.2" transform="rotate(-90.0 538.7 404.2)" font-size="8.5" text-anchor="middle" dominant-baseline="central" font-weight="bold" letter-spacing="0.6" style="stroke-width:1.1px">100</text>
<path d="M521.9,413.5 L521.9,420.9" fill="none" stroke="#000" stroke-width="2.2" stroke-linecap="round" stroke-linejoin="round" />
<path d="M512.6,420.9 L526.5,420.9 L525.6,443.1 L511.7,441.3 Z" fill="#fff" stroke="#000" stroke-width="2.5" stroke-linecap="round" stroke-linejoin="round" />
<text x="519.1" y="431.6" transform="rotate(-95.0 519.1 431.6)" font-size="8.5" text-anchor="middle" dominant-baseline="central" font-weight="bold" letter-spacing="0.6" style="stroke-width:1.1px">100</text>
<path d="M512.6,445 L510.7,461.7" fill="none" stroke="#000" stroke-width="2.2" stroke-linecap="round" stroke-linejoin="round" />
<path d="M503.3,461.7 L520.9,464.4 L515.4,495.9 L499.6,493.1 Z" fill="#fff" stroke="#000" stroke-width="2.5" stroke-linecap="round" stroke-linejoin="round" />
<text x="509.8" y="478.8" transform="rotate(-100.0 509.8 478.8)" font-size="8.5" text-anchor="middle" dominant-baseline="central" font-weight="bold" letter-spacing="0.6" style="stroke-width:1.1px">100</text>
<path d="M565.4,420.9 L566.3,433.9" fill="none" stroke="#000" stroke-width="2.2" stroke-linecap="round" stroke-linejoin="round" />
<path d="M559.8,433.0 L577.4,435.7 L566.3,476.5 L552.4,466.3 Z" fill="#fff" stroke="#000" stroke-width="2.5" stroke-linecap="round" stroke-linejoin="round" />
<text x="564.0" y="452.9" transform="rotate(-110.0 564.0 452.9)" font-size="8.5" text-anchor="middle" dominant-baseline="central" font-weight="bold" letter-spacing="0.6" style="stroke-width:1.1px">100</text>
<circle cx="384" cy="580.5" r="7.45" fill="#000"/>
<circle cx="398" cy="584.5" r="7.05" fill="#000"/>
<circle cx="399.5" cy="596.5" r="7.55" fill="#000"/>
<circle cx="381.5" cy="598.5" r="7.25" fill="#000"/>
<circle cx="380.5" cy="588.5" r="6.75" fill="#000"/>
<circle cx="390" cy="591" r="8.75" fill="#000"/>
<path d="M380.5,588.5 L384.0,580.5 L398.0,584.5 L399.5,596.5 L390.0,591.0 L381.5,598.5 Z" fill="#fff"/>
<circle cx="384" cy="580.5" r="4.95" fill="#fff"/>
<circle cx="398" cy="584.5" r="4.55" fill="#fff"/>
<circle cx="399.5" cy="596.5" r="5.05" fill="#fff"/>
<circle cx="381.5" cy="598.5" r="4.75" fill="#fff"/>
<circle cx="380.5" cy="588.5" r="4.25" fill="#fff"/>
<circle cx="390" cy="591" r="6.25" fill="#fff"/>
<path d="M378.5,583 L386.5,582.5" fill="none" stroke="#000" stroke-width="2.5" stroke-linecap="round" stroke-linejoin="round" />
<path d="M391.5,582 L392,586" fill="none" stroke="#000" stroke-width="2.5" stroke-linecap="round" stroke-linejoin="round" />
<path d="M396,590.5 L402,590" fill="none" stroke="#000" stroke-width="2.5" stroke-linecap="round" stroke-linejoin="round" />
<path d="M375.5,592.5 L380.5,592.5" fill="none" stroke="#000" stroke-width="2.5" stroke-linecap="round" stroke-linejoin="round" />
<path d="M391.3,598 L391.7,619.5" fill="none" stroke="#000" stroke-width="2.6" stroke-linecap="round" stroke-linejoin="round" />
<circle cx="450.5" cy="567.5" r="9.25" fill="#000"/>
<circle cx="467.5" cy="572.5" r="7.25" fill="#000"/>
<circle cx="471.5" cy="582.5" r="6.75" fill="#000"/>
<circle cx="474.5" cy="594" r="6.75" fill="#000"/>
<circle cx="469" cy="604" r="6.25" fill="#000"/>
<circle cx="458.5" cy="605" r="5.75" fill="#000"/>
<circle cx="448.5" cy="599" r="8.75" fill="#000"/>
<circle cx="448" cy="582.5" r="8.25" fill="#000"/>
<circle cx="460" cy="587" r="11.25" fill="#000"/>
<path d="M448.0,582.5 L460.0,587.0 L450.5,567.5 L467.5,572.5 L471.5,582.5 L474.5,594.0 L469.0,604.0 L458.5,605.0 L448.5,599.0 Z" fill="#fff"/>
<circle cx="450.5" cy="567.5" r="6.75" fill="#fff"/>
<circle cx="467.5" cy="572.5" r="4.75" fill="#fff"/>
<circle cx="471.5" cy="582.5" r="4.25" fill="#fff"/>
<circle cx="474.5" cy="594" r="4.25" fill="#fff"/>
<circle cx="469" cy="604" r="3.75" fill="#fff"/>
<circle cx="458.5" cy="605" r="3.25" fill="#fff"/>
<circle cx="448.5" cy="599" r="6.25" fill="#fff"/>
<circle cx="448" cy="582.5" r="5.75" fill="#fff"/>
<circle cx="460" cy="587" r="8.75" fill="#fff"/>
<path d="M445,574.5 L449.5,574.5" fill="none" stroke="#000" stroke-width="2.5" stroke-linecap="round" stroke-linejoin="round" />
<path d="M467.5,577.5 L470,579" fill="none" stroke="#000" stroke-width="2.5" stroke-linecap="round" stroke-linejoin="round" />
<path d="M446,590 L450,592" fill="none" stroke="#000" stroke-width="2.5" stroke-linecap="round" stroke-linejoin="round" />
<path d="M471,588 L474,588.5" fill="none" stroke="#000" stroke-width="2.5" stroke-linecap="round" stroke-linejoin="round" />
<path d="M470,600 L473,600.5" fill="none" stroke="#000" stroke-width="2.5" stroke-linecap="round" stroke-linejoin="round" />
<path d="M462.6,609.3 L464.5,625.5" fill="none" stroke="#000" stroke-width="2.6" stroke-linecap="round" stroke-linejoin="round" />
<circle cx="533.5" cy="594" r="8.55" fill="#000"/>
<circle cx="547" cy="600.5" r="7.55" fill="#000"/>
<circle cx="550" cy="612" r="7.55" fill="#000"/>
<circle cx="550.5" cy="628" r="7.05" fill="#000"/>
<circle cx="527.5" cy="606.5" r="7.25" fill="#000"/>
<circle cx="525.5" cy="621.5" r="8.55" fill="#000"/>
<circle cx="533" cy="628" r="6.25" fill="#000"/>
<circle cx="538" cy="612" r="10.25" fill="#000"/>
<path d="M527.5,606.5 L533.5,594.0 L538.0,612.0 L547.0,600.5 L550.0,612.0 L550.5,628.0 L533.0,628.0 L525.5,621.5 Z" fill="#fff"/>
<circle cx="533.5" cy="594" r="6.05" fill="#fff"/>
<circle cx="547" cy="600.5" r="5.05" fill="#fff"/>
<circle cx="550" cy="612" r="5.05" fill="#fff"/>
<circle cx="550.5" cy="628" r="4.55" fill="#fff"/>
<circle cx="527.5" cy="606.5" r="4.75" fill="#fff"/>
<circle cx="525.5" cy="621.5" r="6.05" fill="#fff"/>
<circle cx="533" cy="628" r="3.75" fill="#fff"/>
<circle cx="538" cy="612" r="7.75" fill="#fff"/>
<path d="M525.5,599.5 L532,600.5" fill="none" stroke="#000" stroke-width="2.5" stroke-linecap="round" stroke-linejoin="round" />
<path d="M541,597 L540.5,599.5" fill="none" stroke="#000" stroke-width="2.5" stroke-linecap="round" stroke-linejoin="round" />
<path d="M546.5,605.5 L552,605" fill="none" stroke="#000" stroke-width="2.5" stroke-linecap="round" stroke-linejoin="round" />
<path d="M546.5,618.5 L551,619" fill="none" stroke="#000" stroke-width="2.5" stroke-linecap="round" stroke-linejoin="round" />
<path d="M522,614 L528,615" fill="none" stroke="#000" stroke-width="2.5" stroke-linecap="round" stroke-linejoin="round" />
<path d="M542.9,629.9 L544.6,656.7" fill="none" stroke="#000" stroke-width="2.6" stroke-linecap="round" stroke-linejoin="round" />
<path d="M542.9,630 L548,637" fill="none" stroke="#000" stroke-width="2" stroke-linecap="round" stroke-linejoin="round" />
<path d="M377,619 C395,622 415,626 435.2,630.5" fill="none" stroke="#000" stroke-width="2.9" stroke-linecap="round" stroke-linejoin="round" />
<path d="M522.6,652.8 C550,660 585,669 616.6,677" fill="none" stroke="#000" stroke-width="2.9" stroke-linecap="round" stroke-linejoin="round" />
<path d="M378.8,652.6 C395,658 415,664 434,669.6 C452,676 470,684 489.6,691.9 C508,699 526,706 545,712.2 C562,718 580,724 597,728.9" fill="none" stroke="#000" stroke-width="2.9" stroke-linecap="round" stroke-linejoin="round" />
<path d="M365.6,680.7 C380,688 390,692 397,695.6 C410,702 422,708 434,714 C446,721 458,729 471,736.3 C484,743 496,751 508,758.5 C522,767 536,775 548.9,782.6" fill="none" stroke="#000" stroke-width="2.9" stroke-linecap="round" stroke-linejoin="round" />
<path d="M422.5,648.4 C424,645 425,643.5 427,642.4 C430,640 432,638.5 434.5,636.5 C436,633.5 437,632 439,630.5 C442,628.5 445,627.8 448,627.5 C453,626.8 458,626.2 462.9,626 C466,626 470,626.5 473.3,627.5 C476,629 479,631 482.3,633.5 C484,635 486,636.5 488.3,638 C492,640 496,641.5 500.3,642.4 C504,643.5 507,644 510.7,645.4 C513,646.5 514.5,648 515.2,650 C516.5,652 517,655 516.7,657.4 C512,661 507,663.5 501.8,666.4 C496,669.5 490,672.5 485.3,675.3 C480,679 477,680 474,680.5 C462,677 450,671 440.4,664.9 C435,663 430,660 426,657 C423,654 422,651 422.5,648.4 Z" fill="#fff" stroke="#000" stroke-width="2.6" stroke-linecap="round" stroke-linejoin="round" />
<path d="M484,676 C494,671 505,665 515.5,659.5 M485.5,679.5 C496,674 507,668 517,662.5 C517.5,661 517,659 516.7,657.4" fill="none" stroke="#000" stroke-width="2.2" stroke-linecap="round" stroke-linejoin="round" />
<path d="M437.4,639.4 C440,636.5 444,635 448,635 C452,636 455,638 457,641 C459.5,644 461.5,647 462.9,650 C463,652 462.5,654 461.4,655.9 C456,655 452,654 448,652.9 C444,652 441,651 439,650 C437,647 436.5,643 437.4,639.4 Z" fill="none" stroke="#000" stroke-width="3.8" stroke-linecap="round" stroke-linejoin="round" />
<path d="M440.5,640 C443,637.5 447,637 450,638.5 C454,641 457,645 459,649 L456.5,650 C454,646 451,643 447.5,641.5 C445,641 442.5,641.5 440.5,643 Z" fill="#000"/>
<circle cx="446" cy="647" r="2.6" fill="none" stroke="#000" stroke-width="1.6"/>
<path d="M445,652 C449,653.5 454,654.5 459,654" fill="none" stroke="#000" stroke-width="2.2" stroke-linecap="round" stroke-linejoin="round" />
<path d="M462.9,639.4 C464,637.5 465.5,636.8 467.4,636.5 C471,636.8 474.5,637.2 477.8,638 C481,639.5 485,641.5 488.3,644 C487,645.5 485.5,646.5 483.8,647 C480,649 476.5,651 473.3,652.9 C470.5,652 468,651 465.9,650 C464,647 463,643 462.9,639.4 Z" fill="none" stroke="#000" stroke-width="2.6" stroke-linecap="round" stroke-linejoin="round" />
<path d="M471,643 C475,640.5 480,641 485,644 C482,646 478,648.5 474,650.5 C472,648 471,645.5 471,643 Z" fill="#000"/>
<path d="M489,665 C492.5,663 492.5,658 490.5,656.5" fill="none" stroke="#000" stroke-width="1.9" stroke-linecap="round" stroke-linejoin="round" />
<path d="M493,663 C496.5,661 496.5,656 494.5,654.5" fill="none" stroke="#000" stroke-width="1.9" stroke-linecap="round" stroke-linejoin="round" />
<path d="M497,661 C500.5,659 500.5,654 498.5,652.5" fill="none" stroke="#000" stroke-width="1.9" stroke-linecap="round" stroke-linejoin="round" />
<path d="M501,659 C504.5,657 504.5,652 502.5,650.5" fill="none" stroke="#000" stroke-width="1.9" stroke-linecap="round" stroke-linejoin="round" />
<path d="M505,657 C508.5,655 508.5,650 506.5,648.5" fill="none" stroke="#000" stroke-width="1.9" stroke-linecap="round" stroke-linejoin="round" />
<circle cx="484.8" cy="666.6" r="2.4" fill="none" stroke="#000" stroke-width="1.9"/>
<circle cx="510.7" cy="652.2" r="2.4" fill="none" stroke="#000" stroke-width="1.9"/>
<path d="M507,648 C510,647 513,648 514,650" fill="none" stroke="#000" stroke-width="1.6" stroke-linecap="round" stroke-linejoin="round" />
<path d="M460.5,659 C459,661 459,663.5 460.5,665.5" fill="none" stroke="#000" stroke-width="2" stroke-linecap="round" stroke-linejoin="round" />
<circle cx="433.7" cy="661.1" r="5.6" fill="#fff" stroke="#000" stroke-width="2.6"/>
<circle cx="433.7" cy="661.1" r="1.7" fill="#000"/>
<circle cx="472.6" cy="675.3" r="6.0" fill="#fff" stroke="#000" stroke-width="2.6"/>
<circle cx="472.6" cy="675.3" r="2.2" fill="#000"/>
<path d="M369.4,665.4 L396.8,673.9 L393.3,685.0 L367.7,675.6 Z" fill="#fff" stroke="#000" stroke-width="2.7" stroke-linecap="round" stroke-linejoin="round" />
<text x="381.8" y="675.0" transform="rotate(18.0 381.8 675.0)" font-size="8.0" text-anchor="middle" dominant-baseline="central" font-weight="bold" letter-spacing="0.6" style="stroke-width:1.3px">1OO</text>
<path d="M386.5,662.5 L403.6,667.2 L402.0,671.5 L385.0,666.8 Z" fill="#fff" stroke="#000" stroke-width="2.7" stroke-linecap="round" stroke-linejoin="round" />
<text x="394.3" y="667.0" transform="rotate(18.0 394.3 667.0)" font-size="0.1" text-anchor="middle" dominant-baseline="central" font-weight="bold" letter-spacing="0.6" style="stroke-width:1.3px">1OO</text>
<path d="M407.0,668.8 L442.0,680.0 L437.8,687.6 L406.2,675.6 Z" fill="#fff" stroke="#000" stroke-width="2.7" stroke-linecap="round" stroke-linejoin="round" />
<text x="423.2" y="678.0" transform="rotate(18.0 423.2 678.0)" font-size="8.0" text-anchor="middle" dominant-baseline="central" font-weight="bold" letter-spacing="0.6" style="stroke-width:1.3px">1OO</text>
<path d="M397.0,682.0 L430.0,691.0 L425.8,701.3 L395.0,691.0 Z" fill="#fff" stroke="#000" stroke-width="2.7" stroke-linecap="round" stroke-linejoin="round" />
<text x="411.9" y="691.3" transform="rotate(18.0 411.9 691.3)" font-size="8.5" text-anchor="middle" dominant-baseline="central" font-weight="bold" letter-spacing="0.6" style="stroke-width:1.3px">1OO</text>
<path d="M442.0,688.0 L478.0,696.2 L474.5,704.7 L441.0,695.0 Z" fill="#fff" stroke="#000" stroke-width="2.7" stroke-linecap="round" stroke-linejoin="round" />
<text x="458.9" y="696.0" transform="rotate(18.0 458.9 696.0)" font-size="8.0" text-anchor="middle" dominant-baseline="central" font-weight="bold" letter-spacing="0.6" style="stroke-width:1.3px">1OO</text>
<path d="M433.0,702.0 L472.8,715.0 L466.0,723.5 L432.0,710.0 Z" fill="#fff" stroke="#000" stroke-width="2.7" stroke-linecap="round" stroke-linejoin="round" />
<text x="450.9" y="712.6" transform="rotate(20.0 450.9 712.6)" font-size="8.0" text-anchor="middle" dominant-baseline="central" font-weight="bold" letter-spacing="0.6" style="stroke-width:1.3px">1OO</text>
<path d="M485.0,709.5 L495.6,702.5 L534.1,719.6 L521.3,729.2 L489.2,714.8 Z" fill="#fff" stroke="#000" stroke-width="2.7" stroke-linecap="round" stroke-linejoin="round" />
<text x="507.0" y="714.5" transform="rotate(22.0 507.0 714.5)" font-size="8.5" text-anchor="middle" dominant-baseline="central" font-weight="bold" letter-spacing="0.6" style="stroke-width:1.3px">1OO</text>
<path d="M476.4,729.2 L486.0,721.7 L525.0,736.0 L527.7,738.8 L512.7,748.4 L478.5,733.5 Z" fill="#fff" stroke="#000" stroke-width="2.7" stroke-linecap="round" stroke-linejoin="round" />
<text x="499.0" y="734.0" transform="rotate(24.0 499.0 734.0)" font-size="8.5" text-anchor="middle" dominant-baseline="central" font-weight="bold" letter-spacing="0.6" style="stroke-width:1.3px">1OO</text>
<path d="M389,665 L400,668.3" fill="none" stroke="#000" stroke-width="1.5" stroke-linecap="round" stroke-linejoin="round" />
<ellipse cx="685.5" cy="164.8" rx="1" ry="1.8" fill="#000"/>
<circle cx="146.4" cy="171.2" r="0.9" fill="#000"/>
<circle cx="31" cy="247.6" r="0.9" fill="#000"/>
<circle cx="10.3" cy="200.5" r="0.9" fill="#000"/>
<circle cx="512.5" cy="298.9" r="0.9" fill="#000"/>
<circle cx="382.5" cy="320.3" r="0.9" fill="#000"/>
<circle cx="544.5" cy="325.6" r="0.9" fill="#000"/>
<circle cx="567.6" cy="496.6" r="0.9" fill="#000"/>
<circle cx="340.5" cy="138.5" r="0.9" fill="#000"/>
<circle cx="264" cy="779" r="0.9" fill="#000"/>
<circle cx="583" cy="255" r="0.9" fill="#000"/>
<path d="M250,501.2 L253.5,503" fill="none" stroke="#000" stroke-width="1.6" stroke-linecap="round" stroke-linejoin="round" />
<text x="322" y="744" style="font-family:'Liberation Serif',serif;stroke-width:0.35px" font-size="16" text-anchor="middle">45</text>
</svg>
</body></html>
